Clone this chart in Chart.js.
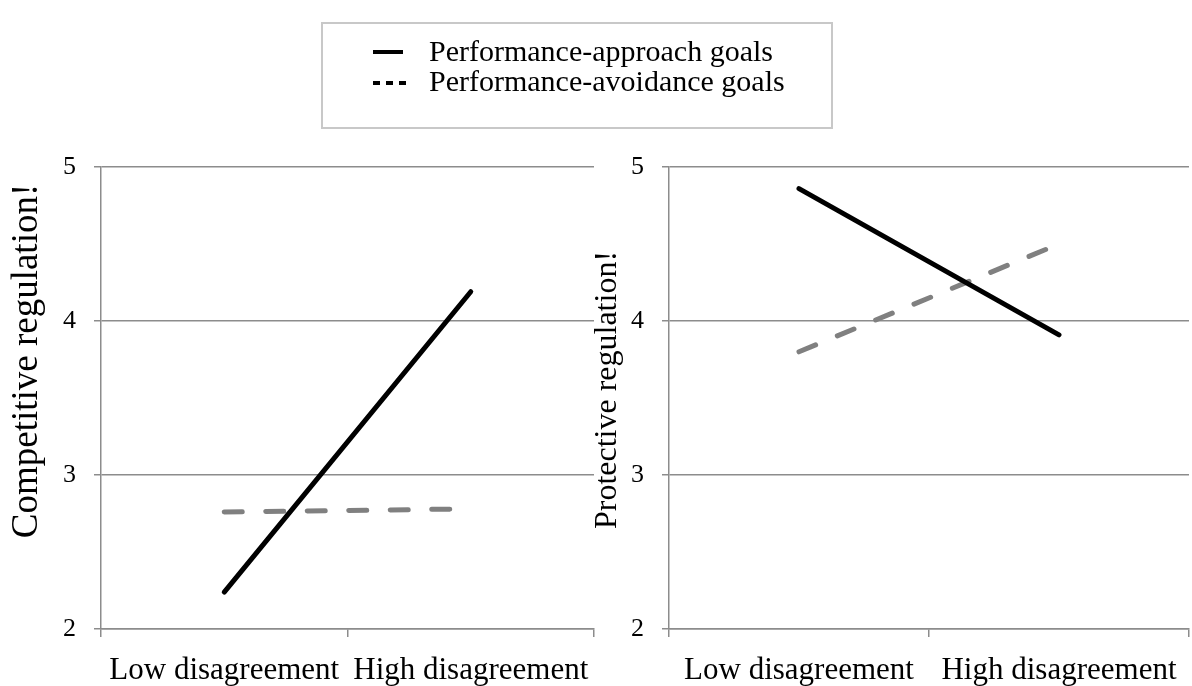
<!DOCTYPE html>
<html>
<head>
<meta charset="utf-8">
<script src="https://cdn.jsdelivr.net/npm/chart.js@4/dist/chart.umd.min.js"></script>
<style>
  html, body { margin: 0; padding: 0; background: #fff; }
  #page { position: relative; width: 1192px; height: 686px; overflow: hidden; }
  .layer { position: absolute; left: 0; top: 0; width: 1192px; height: 686px; }
  #legend { position: absolute; left: 321px; top: 22px; width: 508px; height: 103px;
            border: 2px solid #c8c8c8; box-sizing: content-box;
            font-family: "Liberation Serif", "Times New Roman", serif; font-size: 30px; color: #000; }
  .row { position: absolute; left: 50px; height: 30px; line-height: 30px; white-space: nowrap; }
  .row svg { position: absolute; left: 0; top: 0; }
  .row span { position: absolute; left: 56px; top: 0; }
</style>
</head>
<body>
<div id="page">
  <div class="layer"><canvas id="c1"></canvas></div>
  <div class="layer"><canvas id="c2"></canvas></div>
  <div id="legend">
    <div class="row" style="top:12px">
      <svg width="40" height="30"><line x1="0" y1="16" x2="30" y2="16" stroke="#000" stroke-width="4"/></svg>
      <span id="lg1"></span>
    </div>
    <div class="row" style="top:42px">
      <svg width="40" height="30"><line x1="0" y1="17" x2="33" y2="17" stroke="#000" stroke-width="4" stroke-dasharray="7 6"/></svg>
      <span id="lg2"></span>
    </div>
  </div>
</div>
<script>
// ---- data ----
const categories = ["Low disagreement", "High disagreement"];
const seriesNames = ["Performance-approach goals", "Performance-avoidance goals"];
const competitiveApproach = [2.24, 4.19];
const competitiveAvoidance = [2.76, 2.78];
const protectiveApproach = [4.86, 3.91];
const protectiveAvoidance = [3.80, 4.50];
const yTicks = [2, 3, 4, 5];
const yTitles = ["Competitive regulation!", "Protective regulation!"];

document.getElementById('lg1').textContent = seriesNames[0];
document.getElementById('lg2').textContent = seriesNames[1];

const SERIF = '"Liberation Serif", "Times New Roman", serif';
const GRID = '#8c8c8c';

const yTitlePlugin = {
  id: 'yTitle',
  afterDraw(chart, args, opts) {
    const ctx = chart.ctx;
    ctx.save();
    ctx.translate(opts.x, opts.y);
    ctx.rotate(-Math.PI / 2);
    ctx.font = opts.size + 'px ' + SERIF;
    ctx.fillStyle = '#000';
    ctx.textAlign = 'center';
    ctx.textBaseline = 'middle';
    ctx.fillText(opts.text, 0, 0);
    ctx.restore();
  }
};

function makeChart(id, approach, avoidance, pad, yWidth, title) {
  return new Chart(document.getElementById(id), {
    type: 'line',
    data: {
      labels: categories,
      datasets: [
        { label: seriesNames[0], data: approach, borderColor: '#000', borderWidth: 5,
          borderCapStyle: 'round', pointRadius: 0, tension: 0, fill: false },
        { label: seriesNames[1], data: avoidance, borderColor: '#808080', borderWidth: 5,
          borderCapStyle: 'round', borderDash: [18, 23.5], pointRadius: 0, tension: 0, fill: false }
      ]
    },
    options: {
      responsive: true,
      maintainAspectRatio: false,
      animation: false,
      events: [],
      layout: { padding: pad },
      plugins: { legend: { display: false }, tooltip: { enabled: false }, yTitle: title },
      scales: {
        x: {
          type: 'category',
          offset: true,
          grid: { display: true, offset: true, drawOnChartArea: false, drawTicks: true,
                  tickLength: 8, color: GRID, lineWidth: 1.5 },
          border: { display: true, color: GRID, width: 1.5 },
          ticks: { autoSkip: false, maxRotation: 0, minRotation: 0, padding: 15,
                   color: '#000', font: { family: SERIF, size: 31 } },
          afterFit(scale) { scale.height = 57; }
        },
        y: {
          min: 2, max: 5,
          afterBuildTicks(scale) { scale.ticks = yTicks.map(v => ({ value: v })); },
          grid: { color: GRID, lineWidth: 1.5, drawTicks: true, tickLength: 7 },
          border: { display: true, color: GRID, width: 1.5 },
          ticks: { padding: 18, color: '#000', font: { family: SERIF, size: 26 } },
          afterFit(scale) { scale.width = yWidth; }
        }
      }
    },
    plugins: [yTitlePlugin]
  });
}

makeChart('c1', competitiveApproach, competitiveAvoidance,
  { left: 0, right: 598, top: 167, bottom: 0 }, 101,
  { text: yTitles[0], x: 27, y: 361, size: 37 });
makeChart('c2', protectiveApproach, protectiveAvoidance,
  { left: 580, right: 2, top: 167, bottom: 0 }, 89,
  { text: yTitles[1], x: 608, y: 390, size: 32 });
</script>
</body>
</html>
